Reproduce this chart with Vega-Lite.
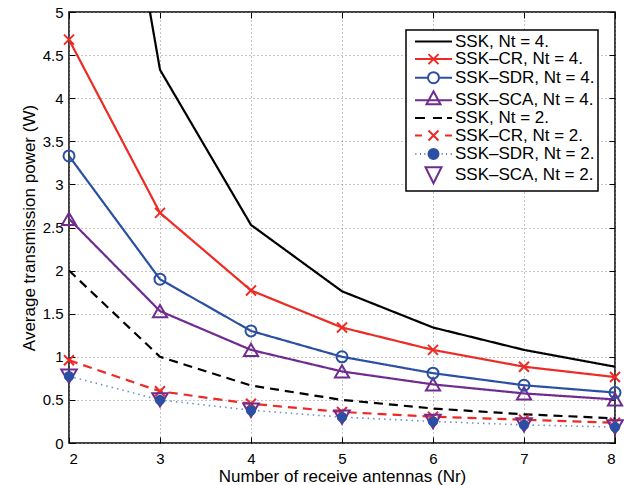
{
  "$schema": "https://vega.github.io/schema/vega-lite/v6.json",
  "width": 546,
  "height": 431,
  "autosize": {"type": "none"},
  "padding": {"left": 69, "top": 12, "right": 9, "bottom": 42},
  "background": "white",
  "config": {
    "font": "Liberation Sans",
    "view": {"stroke": "black", "strokeWidth": 1.5},
    "axis": {
      "domain": false,
      "grid": false,
      "tickColor": "black",
      "tickWidth": 1,
      "labelFont": "Liberation Sans",
      "labelFontSize": 15,
      "labelColor": "black",
      "titleFont": "Liberation Sans",
      "titleFontSize": 17,
      "titleFontWeight": "normal",
      "titleColor": "black"
    },
    "legend": {
      "orient": "none",
      "legendX": 337,
      "legendY": 18,
      "strokeColor": "black",
      "strokeWidth": 1.5,
      "fillColor": "white",
      "padding": 3,
      "labelFont": "Liberation Sans",
      "labelFontSize": 17,
      "labelColor": "black",
      "labelLimit": 400,
      "labelOffset": 29,
      "symbolSize": 100,
      "symbolStrokeWidth": 2,
      "rowPadding": -0.4
    }
  },
  "data": {
    "values": [
      {"nr": 2, "p": 10.4, "s": "SSK, Nt = 4."},
      {"nr": 3, "p": 4.33, "s": "SSK, Nt = 4."},
      {"nr": 4, "p": 2.53, "s": "SSK, Nt = 4."},
      {"nr": 5, "p": 1.76, "s": "SSK, Nt = 4."},
      {"nr": 6, "p": 1.34, "s": "SSK, Nt = 4."},
      {"nr": 7, "p": 1.08, "s": "SSK, Nt = 4."},
      {"nr": 8, "p": 0.885, "s": "SSK, Nt = 4."},
      {"nr": 2, "p": 4.68, "s": "SSK–CR, Nt = 4."},
      {"nr": 3, "p": 2.67, "s": "SSK–CR, Nt = 4."},
      {"nr": 4, "p": 1.77, "s": "SSK–CR, Nt = 4."},
      {"nr": 5, "p": 1.34, "s": "SSK–CR, Nt = 4."},
      {"nr": 6, "p": 1.08, "s": "SSK–CR, Nt = 4."},
      {"nr": 7, "p": 0.885, "s": "SSK–CR, Nt = 4."},
      {"nr": 8, "p": 0.765, "s": "SSK–CR, Nt = 4."},
      {"nr": 2, "p": 3.33, "s": "SSK–SDR, Nt = 4."},
      {"nr": 3, "p": 1.9, "s": "SSK–SDR, Nt = 4."},
      {"nr": 4, "p": 1.3, "s": "SSK–SDR, Nt = 4."},
      {"nr": 5, "p": 1.0, "s": "SSK–SDR, Nt = 4."},
      {"nr": 6, "p": 0.81, "s": "SSK–SDR, Nt = 4."},
      {"nr": 7, "p": 0.67, "s": "SSK–SDR, Nt = 4."},
      {"nr": 8, "p": 0.585, "s": "SSK–SDR, Nt = 4."},
      {"nr": 2, "p": 2.6, "s": "SSK–SCA, Nt = 4."},
      {"nr": 3, "p": 1.53, "s": "SSK–SCA, Nt = 4."},
      {"nr": 4, "p": 1.08, "s": "SSK–SCA, Nt = 4."},
      {"nr": 5, "p": 0.83, "s": "SSK–SCA, Nt = 4."},
      {"nr": 6, "p": 0.68, "s": "SSK–SCA, Nt = 4."},
      {"nr": 7, "p": 0.575, "s": "SSK–SCA, Nt = 4."},
      {"nr": 8, "p": 0.505, "s": "SSK–SCA, Nt = 4."},
      {"nr": 2, "p": 2.0, "s": "SSK, Nt = 2."},
      {"nr": 3, "p": 1.0, "s": "SSK, Nt = 2."},
      {"nr": 4, "p": 0.667, "s": "SSK, Nt = 2."},
      {"nr": 5, "p": 0.5, "s": "SSK, Nt = 2."},
      {"nr": 6, "p": 0.4, "s": "SSK, Nt = 2."},
      {"nr": 7, "p": 0.333, "s": "SSK, Nt = 2."},
      {"nr": 8, "p": 0.286, "s": "SSK, Nt = 2."},
      {"nr": 2, "p": 0.96, "s": "SSK–CR, Nt = 2."},
      {"nr": 3, "p": 0.6, "s": "SSK–CR, Nt = 2."},
      {"nr": 4, "p": 0.455, "s": "SSK–CR, Nt = 2."},
      {"nr": 5, "p": 0.36, "s": "SSK–CR, Nt = 2."},
      {"nr": 6, "p": 0.305, "s": "SSK–CR, Nt = 2."},
      {"nr": 7, "p": 0.27, "s": "SSK–CR, Nt = 2."},
      {"nr": 8, "p": 0.235, "s": "SSK–CR, Nt = 2."},
      {"nr": 2, "p": 0.775, "s": "SSK–SDR, Nt = 2."},
      {"nr": 3, "p": 0.5, "s": "SSK–SDR, Nt = 2."},
      {"nr": 4, "p": 0.38, "s": "SSK–SDR, Nt = 2."},
      {"nr": 5, "p": 0.3, "s": "SSK–SDR, Nt = 2."},
      {"nr": 6, "p": 0.25, "s": "SSK–SDR, Nt = 2."},
      {"nr": 7, "p": 0.21, "s": "SSK–SDR, Nt = 2."},
      {"nr": 8, "p": 0.185, "s": "SSK–SDR, Nt = 2."},
      {"nr": 2, "p": 0.775, "s": "SSK–SCA, Nt = 2."},
      {"nr": 3, "p": 0.5, "s": "SSK–SCA, Nt = 2."},
      {"nr": 4, "p": 0.38, "s": "SSK–SCA, Nt = 2."},
      {"nr": 5, "p": 0.3, "s": "SSK–SCA, Nt = 2."},
      {"nr": 6, "p": 0.25, "s": "SSK–SCA, Nt = 2."},
      {"nr": 7, "p": 0.21, "s": "SSK–SCA, Nt = 2."},
      {"nr": 8, "p": 0.185, "s": "SSK–SCA, Nt = 2."}
    ]
  },
  "layer": [
    {
      "transform": [{"filter": "false"}],
      "mark": {"type": "point"},
      "encoding": {
        "x": {"field": "nr", "type": "quantitative", "scale": {"domain": [2, 8]},
              "axis": {"orient": "bottom", "values": [2, 3, 4, 5, 6, 7, 8], "labels": false, "grid": true, "gridColor": "#888888", "gridDash": [1, 3], "gridWidth": 1, "ticks": true, "tickSize": -6, "title": null}},
        "y": {"field": "p", "type": "quantitative", "scale": {"domain": [0, 5], "nice": false},
              "axis": {"orient": "left", "values": [0, 0.5, 1, 1.5, 2, 2.5, 3, 3.5, 4, 4.5, 5], "labels": false, "grid": true, "gridColor": "#888888", "gridDash": [1, 3], "gridWidth": 1, "ticks": true, "tickSize": -6, "title": null}}
      }
    },
    {
      "transform": [{"filter": "datum.s !== 'SSK–SCA, Nt = 2.'"}],
      "mark": {"type": "line", "clip": true, "strokeCap": "butt"},
      "encoding": {
        "x": {"field": "nr", "type": "quantitative", "scale": {"domain": [2, 8]},
              "axis": {"orient": "bottom", "values": [2, 3, 4, 5, 6, 7, 8], "format": "d", "ticks": false, "tickSize": 0, "grid": false, "title": "Number of receive antennas (Nr)", "labelPadding": 8, "titlePadding": 2}},
        "y": {"field": "p", "type": "quantitative", "scale": {"domain": [0, 5], "nice": false},
              "axis": {"orient": "left", "values": [0, 0.5, 1, 1.5, 2, 2.5, 3, 3.5, 4, 4.5, 5], "format": "~g", "ticks": false, "tickSize": 0, "grid": false, "title": "Average transmission power (W)", "labelPadding": 6, "titlePadding": 4}},
        "color": {"field": "s", "type": "nominal", "legend": null,
                  "scale": {"domain": ["SSK, Nt = 4.", "SSK–CR, Nt = 4.", "SSK–SDR, Nt = 4.", "SSK–SCA, Nt = 4.", "SSK, Nt = 2.", "SSK–CR, Nt = 2.", "SSK–SDR, Nt = 2."],
                            "range": ["#000000", "#ee2a24", "#2b4fa3", "#6f2b90", "#000000", "#ee2a24", "#6f8dd2"]}},
        "strokeDash": {"field": "s", "type": "nominal", "legend": null,
                  "scale": {"domain": ["SSK, Nt = 4.", "SSK–CR, Nt = 4.", "SSK–SDR, Nt = 4.", "SSK–SCA, Nt = 4.", "SSK, Nt = 2.", "SSK–CR, Nt = 2.", "SSK–SDR, Nt = 2."],
                            "range": [[1, 0], [1, 0], [1, 0], [1, 0], [9, 6], [9, 6], [1.5, 4]]}},
        "strokeWidth": {"condition": {"test": "datum.s === 'SSK–SDR, Nt = 2.'", "value": 1.6}, "value": 2.2}
      }
    },
    {
      "transform": [{"filter": "datum.s !== 'SSK, Nt = 4.' && datum.s !== 'SSK, Nt = 2.'"}],
      "mark": {"type": "point", "filled": true, "opacity": 1, "strokeWidth": 2},
      "encoding": {
        "x": {"field": "nr", "type": "quantitative", "scale": {"domain": [2, 8]}, "axis": null},
        "y": {"field": "p", "type": "quantitative", "scale": {"domain": [0, 5], "nice": false}, "axis": null},
        "shape": {"field": "s", "type": "nominal", "legend": null,
                  "scale": {"domain": ["SSK–CR, Nt = 4.", "SSK–SDR, Nt = 4.", "SSK–SCA, Nt = 4.", "SSK–CR, Nt = 2.", "SSK–SCA, Nt = 2.", "SSK–SDR, Nt = 2."],
                            "range": ["M-1,-1L1,1M-1,1L1,-1", "circle", "triangle-up", "M-1,-1L1,1M-1,1L1,-1", "triangle-down", "circle"]}},
        "size": {"condition": [
                    {"test": "datum.s === 'SSK–SCA, Nt = 2.'", "value": 240},
                    {"test": "datum.s === 'SSK–SDR, Nt = 2.'", "value": 70},
                    {"test": "datum.s === 'SSK–SCA, Nt = 4.'", "value": 200},
                    {"test": "datum.s === 'SSK–SDR, Nt = 4.'", "value": 121}
                  ], "value": 100},
        "stroke": {"field": "s", "type": "nominal", "legend": null,
                  "scale": {"domain": ["SSK–CR, Nt = 4.", "SSK–SDR, Nt = 4.", "SSK–SCA, Nt = 4.", "SSK–CR, Nt = 2.", "SSK–SCA, Nt = 2.", "SSK–SDR, Nt = 2."],
                            "range": ["#ee2a24", "#2b4fa3", "#6f2b90", "#ee2a24", "#6f2b90", "#2b4fa3"]}},
        "fill": {"field": "s", "type": "nominal", "legend": null,
                  "scale": {"domain": ["SSK–CR, Nt = 4.", "SSK–SDR, Nt = 4.", "SSK–SCA, Nt = 4.", "SSK–CR, Nt = 2.", "SSK–SCA, Nt = 2.", "SSK–SDR, Nt = 2."],
                            "range": ["transparent", "transparent", "transparent", "transparent", "transparent", "#2b4fa3"]}},
        "order": {"field": "s", "sort": "ascending"}
      }
    },
    {
      "transform": [{"filter": "false"}],
      "mark": {"type": "point", "filled": true, "opacity": 1, "strokeWidth": 2},
      "encoding": {
        "x": {"field": "nr", "type": "quantitative", "scale": {"domain": [2, 8]}, "axis": null},
        "y": {"field": "p", "type": "quantitative", "scale": {"domain": [0, 5], "nice": false}, "axis": null},
        "shape": {"field": "s", "type": "nominal", "title": null,
                  "scale": {"domain": ["SSK, Nt = 4.", "SSK–CR, Nt = 4.", "SSK–SDR, Nt = 4.", "SSK–SCA, Nt = 4.", "SSK, Nt = 2.", "SSK–CR, Nt = 2.", "SSK–SDR, Nt = 2.", "SSK–SCA, Nt = 2."],
                            "range": [
                              "M-0.5,0H6.9",
                              "M-0.5,0H6.9M2.2,-1L4.2,1M2.2,1L4.2,-1",
                              "M-0.5,0H2.1M4.3,0H6.9M2.1,0A1.1,1.1 0 1,0 4.3,0A1.1,1.1 0 1,0 2.1,0",
                              "M-0.5,0H6.9M3.2,-1.8L4.6,0.8L1.8,0.8Z",
                              "M-0.5,0H1.5M3.1,0H4.9M5.9,0H6.9",
                              "M-0.5,0H0.9M5.5,0H6.9M2.2,-1L4.2,1M2.2,1L4.2,-1",
                              "M-0.4,0H-0.25M0.5,0H0.65M1.4,0H1.55M4.85,0H5M5.75,0H5.9M6.65,0H6.8M2.2,0A1,1 0 1,0 4.2,0A1,1 0 1,0 2.2,0",
                              "M1.6,-1.5H4.8L3.2,1.7Z"
                            ]}},
        "stroke": {"field": "s", "type": "nominal", "title": null,
                  "scale": {"domain": ["SSK, Nt = 4.", "SSK–CR, Nt = 4.", "SSK–SDR, Nt = 4.", "SSK–SCA, Nt = 4.", "SSK, Nt = 2.", "SSK–CR, Nt = 2.", "SSK–SDR, Nt = 2.", "SSK–SCA, Nt = 2."],
                            "range": ["#000000", "#ee2a24", "#2b4fa3", "#6f2b90", "#000000", "#ee2a24", "#2b4fa3", "#6f2b90"]}},
        "fill": {"field": "s", "type": "nominal", "title": null,
                  "scale": {"domain": ["SSK, Nt = 4.", "SSK–CR, Nt = 4.", "SSK–SDR, Nt = 4.", "SSK–SCA, Nt = 4.", "SSK, Nt = 2.", "SSK–CR, Nt = 2.", "SSK–SDR, Nt = 2.", "SSK–SCA, Nt = 2."],
                            "range": ["transparent", "transparent", "transparent", "transparent", "transparent", "transparent", "#2b4fa3", "transparent"]}}
      }
    },
    {
      "transform": [{"filter": "false"}],
      "mark": {"type": "point"},
      "encoding": {
        "x": {"field": "nr", "type": "quantitative", "scale": {"domain": [2, 8]},
              "axis": {"orient": "top", "values": [2, 3, 4, 5, 6, 7, 8], "labels": false, "grid": false, "tickSize": -6, "title": null}},
        "y": {"field": "p", "type": "quantitative", "scale": {"domain": [0, 5], "nice": false},
              "axis": {"orient": "right", "values": [0, 0.5, 1, 1.5, 2, 2.5, 3, 3.5, 4, 4.5, 5], "labels": false, "grid": false, "tickSize": -6, "title": null}}
      }
    }
  ],
  "resolve": {
    "scale": {"shape": "independent", "stroke": "independent", "fill": "independent"},
    "axis": {"x": "independent", "y": "independent"}
  }
}
